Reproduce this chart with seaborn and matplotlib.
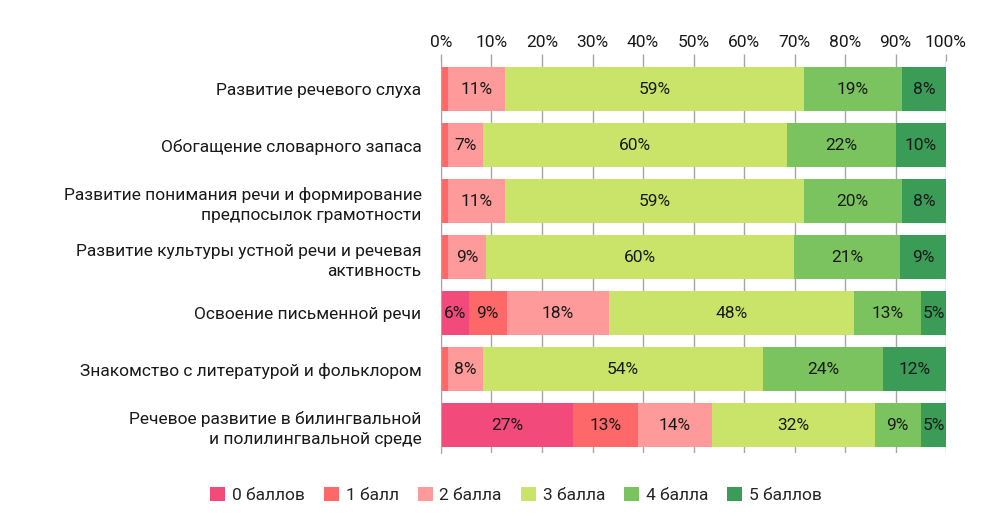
import matplotlib.pyplot as plt
import numpy as np
import pandas as pd
import seaborn as sns
from matplotlib.patches import Patch

# categories (top to bottom)
categories = [
    'Развитие речевого слуха',
    'Обогащение словарного запаса',
    'Развитие понимания речи и формирование\nпредпосылок грамотности',
    'Развитие культуры устной речи и речевая\nактивность',
    'Освоение письменной речи',
    'Знакомство с литературой и фольклором',
    'Речевое развитие в билингвальной\nи полилингвальной среде',
]
series = ['0 баллов', '1 балл', '2 балла', '3 балла', '4 балла', '5 баллов']

# shares
s0 = [0.0, 0.0, 0.0, 0.0, 5.5, 0.0, 26.1]
s1 = [1.4, 1.4, 1.4, 1.4, 7.5, 1.4, 13.0]
s2 = [11.2, 6.9, 11.2, 7.6, 20.3, 6.9, 14.5]
s3 = [59.2, 60.1, 59.2, 60.8, 48.4, 55.3, 32.3]
s4 = [19.3, 21.6, 19.3, 21.0, 13.3, 23.9, 9.1]
s5 = [8.8, 9.9, 8.8, 9.1, 5.0, 12.4, 5.0]

# data labels as printed on the chart ('' = not shown)
l0 = ['', '', '', '', '6%', '', '27%']
l1 = ['', '', '', '', '9%', '', '13%']
l2 = ['11%', '7%', '11%', '9%', '18%', '8%', '14%']
l3 = ['59%', '60%', '59%', '60%', '48%', '54%', '32%']
l4 = ['19%', '22%', '20%', '21%', '13%', '24%', '9%']
l5 = ['8%', '10%', '8%', '9%', '5%', '12%', '5%']

colors = ['#F24A7A', '#FF6868', '#FF9A9A', '#CAE46A', '#7BC35E', '#3A9C56']

df = pd.DataFrame(np.array([s0, s1, s2, s3, s4, s5]).T, columns=series, index=categories)
df = df.div(df.sum(axis=1), axis=0) * 100
cum = df.cumsum(axis=1)
labels = pd.DataFrame(np.array([l0, l1, l2, l3, l4, l5]).T, columns=series, index=categories)

sns.set_style('white')
plt.rcParams['font.family'] = ['Roboto', 'DejaVu Sans']
fs = 12.5

fig = plt.figure(figsize=(10.04, 5.31), dpi=100)
ax = fig.add_axes([441 / 1004, 1 - 453 / 531, 505 / 1004, 392 / 531])

# stacked by overlapping cumulative bars, widest first
for name, col in reversed(list(zip(series, colors))):
    sns.barplot(x=cum[name].values, y=categories, color=col, orient='h',
                width=0.78, saturation=1, linewidth=0, ax=ax)

for name in series:
    for i, cat in enumerate(categories):
        txt = labels.loc[cat, name]
        if txt:
            ax.text(cum.loc[cat, name] - df.loc[cat, name] / 2, i, txt,
                    ha='center', va='center', fontsize=fs, color='#1a1a1a')

ax.set_xlim(0, 100)
ax.set_xticks(range(0, 101, 10))
ax.xaxis.set_major_formatter(lambda x, pos: f'{x:.0f}%')
ax.xaxis.tick_top()
ax.set_axisbelow(True)
ax.xaxis.grid(True, color='#A6A6A6', linewidth=1)
ax.tick_params(axis='x', top=True, length=5, width=1, color='#A6A6A6',
               labelsize=fs, labelcolor='#1a1a1a', pad=3)
ax.tick_params(axis='y', length=0, labelsize=fs, labelcolor='#1a1a1a', pad=14)
for lab in ax.get_yticklabels():
    lab.set_multialignment('right')
    lab.set_linespacing(1.45)
for side in ['top', 'right', 'bottom']:
    ax.spines[side].set_visible(False)
ax.spines['left'].set_color('#A6A6A6')
ax.set_xlabel('')
ax.set_ylabel('')

handles = [Patch(facecolor=c, edgecolor='none') for c in colors]
fig.legend(handles, series, loc='center', bbox_to_anchor=(0.514, 1 - 495 / 531),
           ncol=6, frameon=False, fontsize=fs, handlelength=0.85, handleheight=0.85,
           handletextpad=0.4, columnspacing=1.1)

fig.savefig('out.png', dpi=100)
